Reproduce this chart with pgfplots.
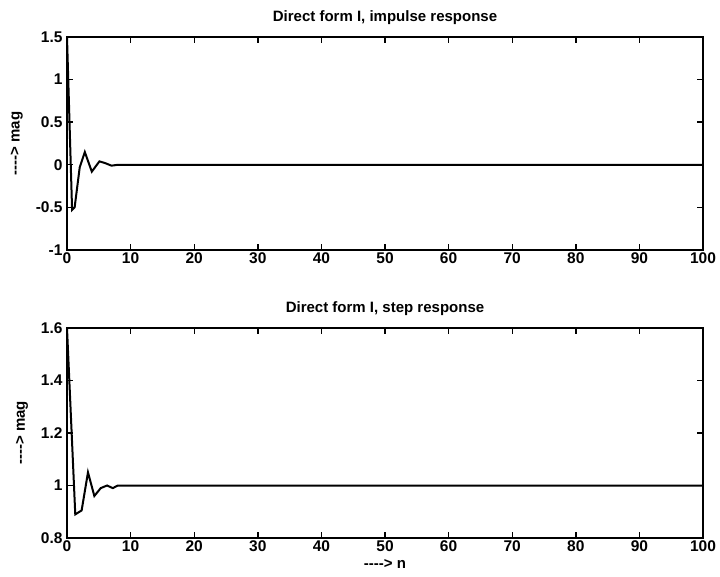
\documentclass[border=0pt]{standalone}
\usepackage{pgfplots}
\pgfplotsset{compat=1.18}
\usepackage{fontspec}
\setmainfont{Liberation Sans}
\begin{document}
\begin{tikzpicture}[x=1pt,y=1pt]
\useasboundingbox (0,0) rectangle (720,576);
\pgfplotsset{
  every axis/.append style={
    scale only axis,
    width=636pt,
    xmin=0, xmax=100,
    xtick={0,10,...,100},
    tick align=inside,
    major tick length=6pt,
    axis line style={line width=1.6pt},
    every tick/.style={line width=1.4pt, black},
    tick label style={font=\fontsize{15.5}{17}\selectfont\bfseries},
    /pgf/number format/assume math mode=true,
    title style={font=\fontsize{15}{17}\selectfont\bfseries, yshift=3pt},
    every axis y label/.style={at={(ticklabel cs:0.5)}, rotate=90, anchor=south, yshift=6pt, font=\fontsize{15}{17}\selectfont\bfseries},
    every axis x label/.style={at={(ticklabel cs:0.5)}, anchor=north, yshift=-1pt, font=\fontsize{15}{17}\selectfont\bfseries},
    yticklabel style={xshift=-1pt},
    xticklabel style={yshift=1pt},
  }
}
\begin{axis}[
  at={(67pt,326pt)}, anchor=south west,
  height=213pt,
  ymin=-1, ymax=1.5,
  ytick={-1,-0.5,0,0.5,1,1.5},
  title={Direct form I, impulse response},
  ylabel={-{}-{}-{}-{}> mag},
]
\addplot[black, line width=2pt] coordinates {
(0,1.5) (0.8,-0.53) (1.2,-0.5) (2,-0.03) (2.8,0.15) (3.9,-0.08) (5.1,0.04) (6,0.02) (7,-0.01) (8,0) (100,0)
};
\end{axis}
\begin{axis}[
  at={(67pt,38pt)}, anchor=south west,
  height=210pt,
  ymin=0.8, ymax=1.6,
  ytick={0.8,1,1.2,1.4,1.6},
  yticklabel style={/pgf/number format/fixed, /pgf/number format/precision=1},
  title={Direct form I, step response},
  ylabel={-{}-{}-{}-{}> mag},
  xlabel={-{}-{}-{}-{}> n},
]
\addplot[black, line width=2pt] coordinates {
(0,1.6) (1.3,0.89) (2.3,0.905) (3.3,1.05) (4.3,0.96) (5.3,0.99) (6.3,1.0) (7.2,0.99) (8,1.0) (100,1.0)
};
\end{axis}
\end{tikzpicture}
\end{document}
